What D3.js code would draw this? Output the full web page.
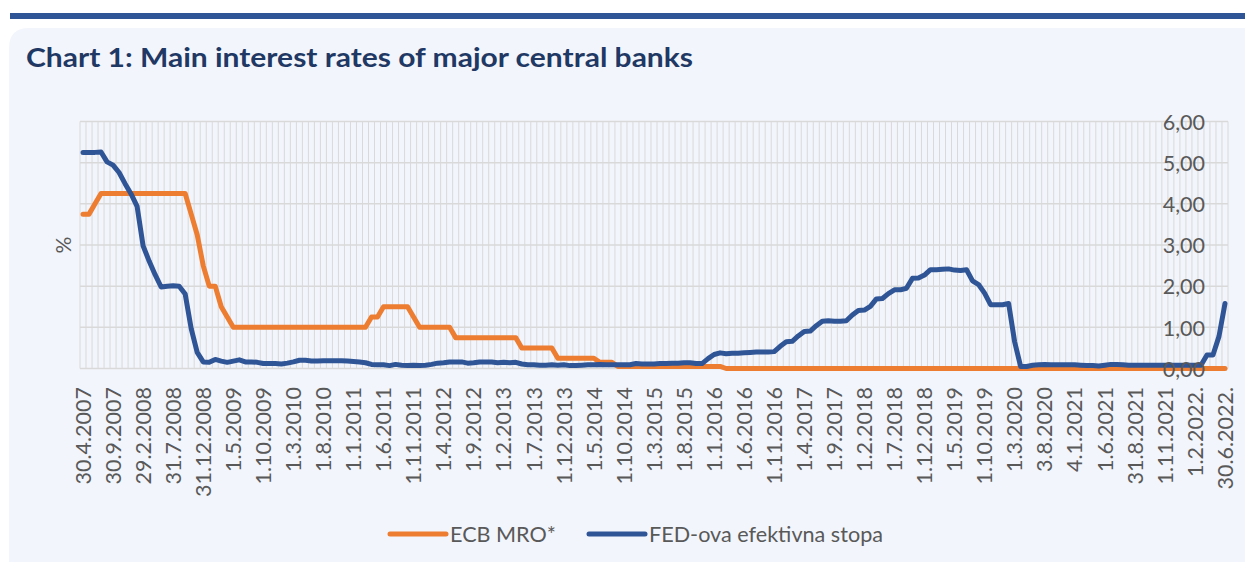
<!DOCTYPE html>
<html>
<head>
<meta charset="utf-8">
<script src="https://cdn.jsdelivr.net/npm/d3@7"></script>
<style>
  body { margin: 0; background: #fff; }
  text { font-family: Lato, "Open Sans", sans-serif; }
</style>
</head>
<body>
<svg id="chart"></svg>
<script>
// Tick labels, one every 5 categories
var tickLabels = ["30.4.2007", "30.9.2007", "29.2.2008", "31.7.2008", "31.12.2008", "1.5.2009",
    "1.10.2009", "1.3.2010", "1.8.2010", "1.1.2011", "1.6.2011", "1.11.2011", "1.4.2012",
    "1.9.2012", "1.2.2013", "1.7.2013", "1.12.2013", "1.5.2014", "1.10.2014", "1.3.2015",
    "1.8.2015", "1.1.2016", "1.6.2016", "1.11.2016", "1.4.2017", "1.9.2017", "1.2.2018",
    "1.7.2018", "1.12.2018", "1.5.2019", "1.10.2019", "1.3.2020", "3.8.2020", "4.1.2021",
    "1.6.2021", "31.8.2021", "1.11.2021", "1.2.2022.", "30.6.2022."];
var labelEvery = 5;

// ECB MRO*, one value per category
var ecb = [
    3.75, 3.75, 4.00, 4.25, 4.25, 4.25, 4.25, 4.25, 4.25, 4.25,
    4.25, 4.25, 4.25, 4.25, 4.25, 4.25, 4.25, 4.25, 3.75, 3.25,
    2.50, 2.00, 2.00, 1.50, 1.25, 1.00, 1.00, 1.00, 1.00, 1.00,
    1.00, 1.00, 1.00, 1.00, 1.00, 1.00, 1.00, 1.00, 1.00, 1.00,
    1.00, 1.00, 1.00, 1.00, 1.00, 1.00, 1.00, 1.00, 1.25, 1.25,
    1.50, 1.50, 1.50, 1.50, 1.50, 1.25, 1.00, 1.00, 1.00, 1.00,
    1.00, 1.00, 0.75, 0.75, 0.75, 0.75, 0.75, 0.75, 0.75, 0.75,
    0.75, 0.75, 0.75, 0.50, 0.50, 0.50, 0.50, 0.50, 0.50, 0.25,
    0.25, 0.25, 0.25, 0.25, 0.25, 0.25, 0.15, 0.15, 0.15, 0.05,
    0.05, 0.05, 0.05, 0.05, 0.05, 0.05, 0.05, 0.05, 0.05, 0.05,
    0.05, 0.05, 0.05, 0.05, 0.05, 0.05, 0.05, 0, 0, 0,
    0, 0, 0, 0, 0, 0, 0, 0, 0, 0,
    0, 0, 0, 0, 0, 0, 0, 0, 0, 0,
    0, 0, 0, 0, 0, 0, 0, 0, 0, 0,
    0, 0, 0, 0, 0, 0, 0, 0, 0, 0,
    0, 0, 0, 0, 0, 0, 0, 0, 0, 0,
    0, 0, 0, 0, 0, 0, 0, 0, 0, 0,
    0, 0, 0, 0, 0, 0, 0, 0, 0, 0,
    0, 0, 0, 0, 0, 0, 0, 0, 0, 0,
    0];

// FED-ova efektivna stopa
var fed = [
    5.25, 5.25, 5.25, 5.26, 5.02, 4.94, 4.76, 4.49, 4.24, 3.94,
    2.98, 2.61, 2.28, 1.98, 2.00, 2.01, 2.00, 1.81, 0.97, 0.39,
    0.16, 0.15, 0.22, 0.18, 0.15, 0.18, 0.21, 0.16, 0.16, 0.15,
    0.12, 0.12, 0.12, 0.11, 0.13, 0.16, 0.20, 0.20, 0.18, 0.18,
    0.19, 0.19, 0.19, 0.19, 0.18, 0.17, 0.16, 0.14, 0.10, 0.09,
    0.09, 0.07, 0.10, 0.08, 0.07, 0.08, 0.07, 0.08, 0.10, 0.13,
    0.14, 0.16, 0.16, 0.16, 0.13, 0.14, 0.16, 0.16, 0.16, 0.14,
    0.15, 0.14, 0.15, 0.11, 0.09, 0.09, 0.08, 0.08, 0.09, 0.08,
    0.09, 0.07, 0.07, 0.08, 0.09, 0.09, 0.10, 0.09, 0.09, 0.09,
    0.09, 0.09, 0.12, 0.11, 0.11, 0.11, 0.12, 0.12, 0.13, 0.13,
    0.14, 0.14, 0.12, 0.12, 0.24, 0.34, 0.38, 0.36, 0.37, 0.37,
    0.38, 0.39, 0.40, 0.40, 0.40, 0.41, 0.54, 0.65, 0.66, 0.79,
    0.90, 0.91, 1.04, 1.15, 1.16, 1.15, 1.15, 1.16, 1.30, 1.41,
    1.42, 1.51, 1.69, 1.70, 1.82, 1.91, 1.91, 1.95, 2.19, 2.20,
    2.27, 2.40, 2.40, 2.41, 2.42, 2.39, 2.38, 2.40, 2.13, 2.04,
    1.83, 1.55, 1.55, 1.55, 1.58, 0.65, 0.05, 0.05, 0.08, 0.09,
    0.10, 0.09, 0.09, 0.09, 0.09, 0.09, 0.08, 0.07, 0.07, 0.06,
    0.08, 0.10, 0.10, 0.09, 0.08, 0.08, 0.08, 0.08, 0.08, 0.08,
    0.08, 0.08, 0.08, 0.08, 0.08, 0.08, 0.08, 0.33, 0.33, 0.78,
    1.58];

var seriesNames = ["ECB MRO*", "FED-ova efektivna stopa"];
var seriesColors = ["#ED7D31", "#2F5597"];

var W = 1245, H = 565,
    plotLeft = 80, plotRight = 1228, plotTop = 121.5, plotBottom = 368.5,
    grey = "#595959";

var svg = d3.select("#chart").attr("width", W).attr("height", H);

// page decoration: top bar and light panel
svg.append("rect").attr("x", 10).attr("y", 13).attr("width", W - 10).attr("height", 6)
    .attr("fill", "#2F5597");
svg.append("path")
    .attr("d", "M9,562 L9,48 Q9,28 29,28 L" + W + ",28 L" + W + ",562 Z")
    .attr("fill", "#F2F5FB");

svg.append("text")
    .attr("x", 26).attr("y", 67)
    .attr("font-size", 26.5).attr("font-weight", 700)
    .attr("fill", "#1F3864")
    .attr("textLength", 667).attr("lengthAdjust", "spacingAndGlyphs")
    .text("Chart 1: Main interest rates of major central banks");

var n = fed.length;
var x = d3.scaleBand().domain(d3.range(n)).range([plotLeft, plotRight]);
var bw = x.bandwidth();
var y = d3.scaleLinear().domain([0, 6]).range([plotBottom, plotTop]);

// gridlines
var grid = svg.append("g").attr("stroke", "#D9D9D9");
grid.selectAll(".vg").data(d3.range(n + 1)).enter().append("line")
    .attr("class", "vg")
    .attr("x1", function (d) { return d < n ? x(d) : plotRight; })
    .attr("x2", function (d) { return d < n ? x(d) : plotRight; })
    .attr("y1", plotTop).attr("y2", plotBottom)
    .attr("stroke-width", 1);
grid.selectAll(".hg").data(y.ticks(6)).enter().append("line")
    .attr("class", "hg")
    .attr("x1", plotLeft).attr("x2", plotRight)
    .attr("y1", function (d) { return y(d); })
    .attr("y2", function (d) { return y(d); })
    .attr("stroke-width", 1.5);

// lines
var line = d3.line()
    .x(function (d, i) { return x(i) + bw / 2; })
    .y(function (d) { return y(d); });

svg.selectAll(".series").data([ecb, fed]).enter().append("path")
    .attr("class", "series")
    .attr("d", line)
    .attr("fill", "none")
    .attr("stroke", function (d, i) { return seriesColors[i]; })
    .attr("stroke-width", 5)
    .attr("stroke-linejoin", "round")
    .attr("stroke-linecap", "round");

// x axis labels
var xAxis = d3.axisBottom(x)
    .tickValues(d3.range(0, n, labelEvery))
    .tickFormat(function (d) { return tickLabels[d / labelEvery]; })
    .tickSize(0);
var gx = svg.append("g").attr("transform", "translate(0," + plotBottom + ")").call(xAxis);
gx.select(".domain").remove();
gx.selectAll("text")
    .attr("transform", "rotate(-90)")
    .attr("x", -18.5).attr("y", 0).attr("dy", "0.36em")
    .attr("text-anchor", "end")
    .attr("font-size", 21.5).attr("fill", grey)
    .style("font-family", "Lato, 'Open Sans', sans-serif");

// y axis labels, drawn inside the plot on the right
var yAxis = d3.axisLeft(y).ticks(6)
    .tickFormat(function (d) { return d3.format(".2f")(d).replace(".", ","); })
    .tickSize(0).tickPadding(0);
var gy = svg.append("g").attr("transform", "translate(1205,0)").call(yAxis);
gy.select(".domain").remove();
gy.selectAll("text")
    .attr("font-size", 21.5).attr("fill", grey).attr("dy", "0.36em")
    .style("font-family", "Lato, 'Open Sans', sans-serif");

svg.append("text")
    .attr("transform", "translate(63,245) rotate(-90)")
    .attr("text-anchor", "middle").attr("dy", "0.36em")
    .attr("font-size", 21).attr("fill", grey)
    .text("%");

// legend
var legendX = [390, 589];
var lg = svg.selectAll(".leg").data(seriesNames).enter().append("g")
    .attr("class", "leg")
    .attr("transform", function (d, i) { return "translate(" + legendX[i] + ",534)"; });
lg.append("line")
    .attr("x1", 0).attr("x2", 56).attr("y1", 0).attr("y2", 0)
    .attr("stroke", function (d, i) { return seriesColors[i]; })
    .attr("stroke-width", 5).attr("stroke-linecap", "round");
lg.append("text")
    .attr("x", 60).attr("dy", "0.36em")
    .attr("font-size", 21.6).attr("fill", grey)
    .text(function (d) { return d; });
</script>
</body>
</html>
